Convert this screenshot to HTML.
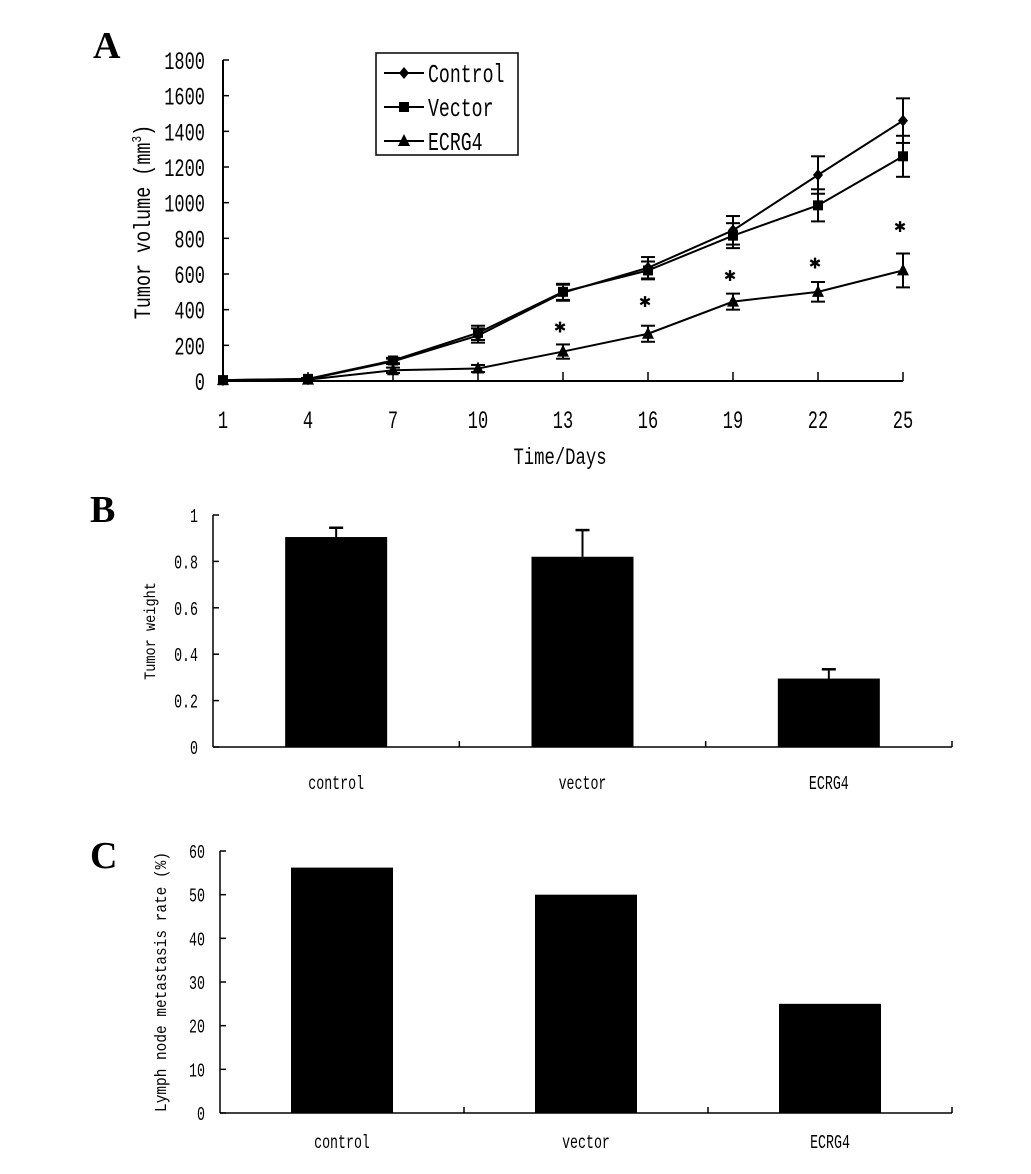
<!DOCTYPE html>
<html><head><meta charset="utf-8"><style>
body{margin:0;background:#fff;}
svg{display:block;}
text{font-family:"Liberation Mono","Noto Sans CJK SC",monospace;fill:#000;}
.pl{font-family:"Liberation Serif",serif;font-weight:bold;font-size:38px;}
</style></head><body>
<svg id="fig" width="1031" height="1174" viewBox="0 0 1031 1174" xmlns="http://www.w3.org/2000/svg">
<text class="pl" x="93" y="58">A</text>
<text class="pl" x="90" y="522">B</text>
<text class="pl" x="90" y="868">C</text>
</svg>
<script>
const days=[1,4,7,10,13,16,19,22,25];
const controlVol=[5,10,110,255,495,635,845,1155,1460];
const vectorVol=[5,12,115,270,500,620,815,985,1260];
const ecrgVol=[5,8,60,70,165,265,445,500,620];
const controlErr=[0,5,15,40,45,60,80,105,125];
const vectorErr=[0,5,15,40,45,50,70,90,115];
const ecrgErr=[0,5,15,20,40,45,45,55,95];
const starDays=[13,16,19,22,25];
const starVals=[305,450,595,665,870];
const volTicks=[0,200,400,600,800,1000,1200,1400,1600,1800];
const weightCats=['control','vector','ECRG4'];
const weightVals=[0.905,0.82,0.295];
const weightErr=[0.04,0.115,0.04];
const weightTicks=[0,0.2,0.4,0.6,0.8,1];
const weightTickLabels=['0','0.2','0.4','0.6','0.8','1'];
const lnCats=['control','vector','ECRG4'];
const lnVals=[56.2,50,25];
const lnTicks=[0,10,20,30,40,50,60];

const svg=document.getElementById('fig');
const NS='http://www.w3.org/2000/svg';
function mk(tag,attrs,parent){const e=document.createElementNS(NS,tag);for(const k in attrs)e.setAttribute(k,attrs[k]);(parent||svg).appendChild(e);return e;}
function txt(s,attrs,parent){const e=mk('text',attrs,parent);e.textContent=s;return e;}
// condensed text: scale horizontally
function ctxt(s,x,y,size,sx,anchor,parent,rot){
  const tr=rot?`translate(${x},${y}) rotate(-90) scale(${sx},1)`:`translate(${x},${y}) scale(${sx},1)`;
  return txt(s,{x:0,y:0,'font-size':size,'text-anchor':anchor||'start',transform:tr},parent);
}

// Panel A
const ax={x0:223,x1:903,y0:381,y1:60};
const xA=d=>ax.x0+(d-1)/24*(ax.x1-ax.x0);
const yA=v=>ax.y0-v/1800*(ax.y0-ax.y1);
const gA=mk('g',{});


let l=mk('line',{x1:ax.x0,y1:ax.y1,x2:ax.x0,y2:ax.y0,stroke:'#000','stroke-width':2},gA);

l=mk('line',{x1:ax.x0,y1:ax.y0,x2:ax.x1,y2:ax.y0,stroke:'#000','stroke-width':2},gA);

volTicks.forEach(v=>{
  mk('line',{x1:ax.x0,y1:yA(v),x2:ax.x0+6,y2:yA(v),stroke:'#000','stroke-width':1.5},gA);
  const t=ctxt(String(v),205,yA(v)+9,25,0.68,'end',gA);
  
});
days.forEach(d=>{
  mk('line',{x1:xA(d),y1:ax.y0,x2:xA(d),y2:ax.y0-9,stroke:'#000','stroke-width':1.5},gA);
  const t=ctxt(String(d),xA(d),428,25,0.68,'middle',gA);
  
});
let t=ctxt('Time/Days',560,464,23,0.75,'middle',gA);

t=txt('',{x:0,y:0,'font-size':23,transform:'translate(150,222) rotate(-90) scale(0.8,1)','text-anchor':'middle'},gA);
t.innerHTML='Tumor volume (mm<tspan font-size="14" dy="-9">3</tspan><tspan dy="9">)</tspan>';


function marker(kind,x,y,parent){
  if(kind==='diamond')return mk('polygon',{points:`${x},${y-6} ${x+5},${y} ${x},${y+6} ${x-5},${y}`,fill:'#000'},parent);
  if(kind==='square')return mk('rect',{x:x-5,y:y-5,width:10,height:10,fill:'#000'},parent);
  return mk('polygon',{points:`${x},${y-7} ${x+6},${y+5} ${x-6},${y+5}`,fill:'#000'},parent);
}
function series(vals,errs,kind,name){
  const g=mk('g',{},gA);
  
  mk('polyline',{points:days.map((d,i)=>xA(d)+','+yA(vals[i])).join(' '),fill:'none',stroke:'#000','stroke-width':2},g);
  days.forEach((d,i)=>{
    if(errs[i]>0){
      const x=xA(d);
      mk('line',{x1:x,y1:yA(vals[i]-errs[i]),x2:x,y2:yA(vals[i]+errs[i]),stroke:'#000','stroke-width':2},g);
      [vals[i]-errs[i],vals[i]+errs[i]].forEach(v=>mk('line',{x1:x-7,y1:yA(v),x2:x+7,y2:yA(v),stroke:'#000','stroke-width':2},g));
    }
    const m=marker(kind,xA(d),yA(vals[i]),g);
    
  });
}
series(controlVol,controlErr,'diamond','control-series');
series(vectorVol,vectorErr,'square','vector-series');
series(ecrgVol,ecrgErr,'triangle','ecrg4-series');
starDays.forEach((d,i)=>{
  const s=txt('✱',{x:xA(d)-3,y:yA(starVals[i])+6,'text-anchor':'middle','font-size':15,style:'font-family:"DejaVu Sans",sans-serif'},gA);
  
});
// legend
const lg=mk('g',{},gA);

mk('rect',{x:376,y:53,width:142,height:102,fill:'#fff',stroke:'#000','stroke-width':1.5},lg);
[['Control','diamond'],['Vector','square'],['ECRG4','triangle']].forEach((e,i)=>{
  const y=73+i*34;
  const g=mk('g',{},lg);
  
  mk('line',{x1:384,y1:y,x2:424,y2:y,stroke:'#000','stroke-width':2},g);
  marker(e[1],404,y,g);
  ctxt(e[0],428,y+9,26,0.7,'start',g);
});

// bar chart helper
function barChart(o){
  const g=mk('g',{});
  
  const y=v=>o.y0-(v-o.min)/(o.max-o.min)*(o.y0-o.y1);
  const step=(o.x1-o.x0)/o.cats.length;
  let a=mk('line',{x1:o.x0,y1:o.y1,x2:o.x0,y2:o.y0,stroke:'#000','stroke-width':1.5},g);
  
  a=mk('line',{x1:o.x0,y1:o.y0,x2:o.x1,y2:o.y0,stroke:'#000','stroke-width':1.5},g);
  
  o.ticks.forEach((v,i)=>{
    mk('line',{x1:o.x0,y1:y(v),x2:o.x0+6,y2:y(v),stroke:'#000','stroke-width':1.5},g);
    const t=ctxt(o.tickLabels[i],o.x0-15,y(v)+7,19,0.7,'end',g);
    
  });
  o.cats.forEach((c,i)=>{
    const cx=o.x0+step*(i+0.5);
    mk('line',{x1:o.x0+step*(i+1),y1:o.y0,x2:o.x0+step*(i+1),y2:o.y0-6,stroke:'#000','stroke-width':1.5},g);
    const b=mk('rect',{x:cx-51,y:y(o.vals[i]),width:102,height:o.y0-y(o.vals[i]),fill:'#000'},g);
    
    if(o.errs){
      const top=y(o.vals[i]+o.errs[i]);
      mk('line',{x1:cx,y1:y(o.vals[i]),x2:cx,y2:top,stroke:'#000','stroke-width':2},g);
      mk('line',{x1:cx-7,y1:top,x2:cx+7,y2:top,stroke:'#000','stroke-width':2.5},g);
    }
    const t=ctxt(c,cx,o.labelY,19,0.7,'middle',g);
    
  });
  const t=ctxt(o.title,o.titleX,(o.y0+o.y1)/2,o.titleSize,0.85,'middle',g,true);
  
}
barChart({name:'panel-b-bar-chart',x0:213,x1:952,y0:747,y1:515,min:0,max:1,cats:weightCats,vals:weightVals,errs:weightErr,ticks:weightTicks,tickLabels:weightTickLabels,labelY:789,title:'Tumor weight',titleX:155,titleSize:16});
barChart({name:'panel-c-bar-chart',x0:220,x1:952,y0:1113,y1:851,min:0,max:60,cats:lnCats,vals:lnVals,ticks:lnTicks,tickLabels:lnTicks.map(String),labelY:1148,title:'Lymph node metastasis rate (%)',titleX:166,titleSize:17});
</script>
</body></html>
